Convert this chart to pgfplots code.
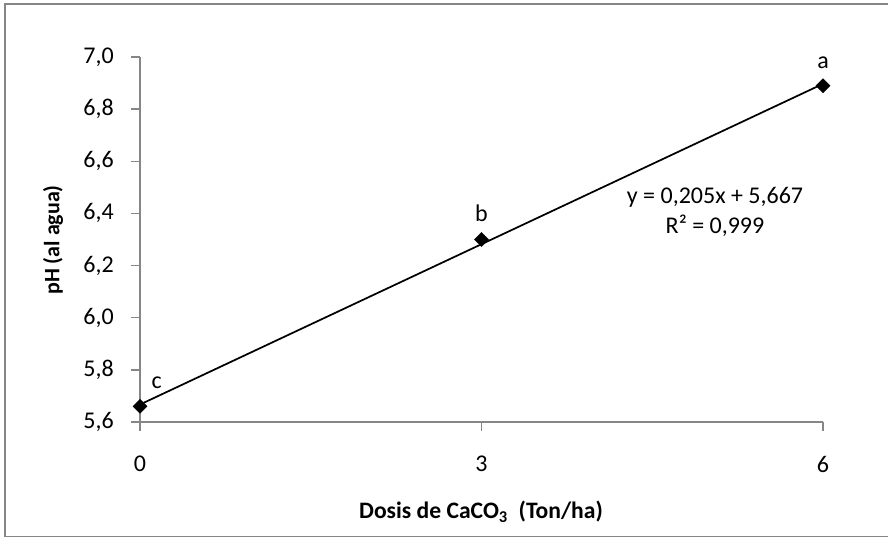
\documentclass[border=0pt]{standalone}
\usepackage{pgfplots}
\pgfplotsset{compat=1.18}
\usepackage{fontspec}
\setmainfont{Carlito}
\definecolor{axgray}{RGB}{134,134,134}

\begin{document}
\begin{tikzpicture}[x=0.75pt,y=0.75pt]
\fontsize{18}{21}\selectfont
\useasboundingbox (0,0) rectangle (888,538);
% chart frame (open on the right)
\draw[axgray, line width=1.2pt] (888,534) -- (5,534) -- (5,1.5) -- (888,1.5);

\begin{axis}[
  at={(105pt,87pt)}, anchor=south west,
  scale only axis, width=512.25pt, height=273.75pt,
  xmin=0, xmax=6, ymin=5.6, ymax=7.0,
  axis lines=left,
  axis line style={-, axgray, line width=1pt},
  xtick={0,3,6}, ytick={5.6,5.8,...,7.01},
  tick align=outside,
  major tick length=6.5pt,
  tick style={axgray, line width=1pt},
  /pgf/number format/assume math mode=true,
  /pgf/number format/.cd, use comma, fixed, fixed zerofill, precision=1,
  /pgfplots/.cd,
  xticklabel={\pgfmathprintnumber[precision=0,fixed zerofill=false]{\tick}},
  ticklabel style={font=\fontsize{18}{21}\selectfont},
  yticklabel style={anchor=east, inner sep=0pt, xshift=-13pt},
  xticklabel style={anchor=north, inner sep=0pt, yshift=-19pt},
  clip=false,
]
% fitted line y = 0,205x + 5,667
\addplot[black, line width=1.3pt] coordinates {(0,5.667) (6,6.897)};
% measured means
\addplot[only marks, mark=square*, mark size=3.7pt, mark options={rotate=45, fill=black, draw=black}]
  coordinates {(0,5.66) (3,6.30) (6,6.89)};
\node[anchor=center] at (axis cs:0,5.66) [xshift=12.5pt, yshift=18pt] {c};
\node[anchor=center] at (axis cs:3,6.30) [xshift=0pt, yshift=20pt] {b};
\node[anchor=center] at (axis cs:6,6.89) [xshift=0pt, yshift=17pt] {a};
\end{axis}

\node[anchor=center] at (715,341) {y = 0,205x + 5,667};
\node[anchor=center] at (715,312) {R² = 0,999};
\node[anchor=base, font=\fontsize{17.7}{21}\selectfont\bfseries] at (481,19) {Dosis de CaCO\textsubscript{3}\ \ (Ton/ha)};
\node[anchor=center, rotate=90, font=\fontsize{16.5}{20}\selectfont\bfseries] at (53,298) {pH (al agua)};
\end{tikzpicture}
\end{document}
